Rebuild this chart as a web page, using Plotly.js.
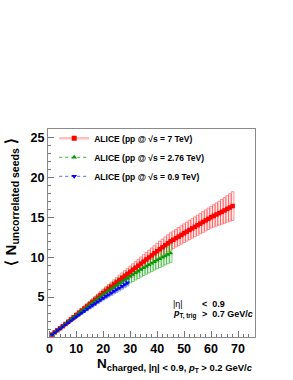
<!DOCTYPE html>
<html>
<head>
<meta charset="utf-8">
<script src="https://cdn.plot.ly/plotly-3.0.1.min.js"></script>
<style>html,body{margin:0;padding:0;background:#fff;}#plot{width:293px;height:380px;}</style>
</head>
<body>
<div id="plot"></div>
<script>
// ---- data ----
const nch7 = [1,2,3,4,5,6,7,8,9,10,11,12,13,14,15,16,17,18,19,20,21,22,23,24,25,26,27,28,29,30,31,32,33,34,35,36,37,38,39,40,41,42,43,44,45,46,47,48,49,50,51,52,53,54,55,56,57,58,59,60,61,62,63,64,65,66,67,68];
const seeds7 = [0.30,0.58,0.85,1.10,1.36,1.63,1.91,2.19,2.47,2.75,3.02,3.29,3.56,3.83,4.10,4.38,4.66,4.94,5.22,5.50,5.77,6.04,6.31,6.58,6.85,7.11,7.37,7.63,7.89,8.15,8.41,8.67,8.93,9.19,9.45,9.71,9.97,10.23,10.49,10.75,11.00,11.25,11.50,11.75,11.98,12.18,12.38,12.58,12.79,13.00,13.20,13.40,13.60,13.80,14.00,14.20,14.40,14.60,14.80,15.00,15.17,15.34,15.51,15.68,15.85,16.04,16.22,16.40];
const sys7 = [0.03,0.05,0.08,0.10,0.12,0.15,0.17,0.20,0.22,0.25,0.27,0.30,0.32,0.34,0.37,0.39,0.42,0.44,0.47,0.50,0.52,0.54,0.57,0.59,0.62,0.64,0.66,0.69,0.71,0.73,0.76,0.78,0.80,0.83,0.85,0.87,0.90,0.92,0.94,0.97,0.99,1.01,1.04,1.06,1.08,1.10,1.11,1.13,1.15,1.17,1.19,1.21,1.22,1.24,1.26,1.28,1.30,1.32,1.34,1.36,1.40,1.45,1.50,1.55,1.60,1.66,1.72,1.80];

const nch276 = [1,2,3,4,5,6,7,8,9,10,11,12,13,14,15,16,17,18,19,20,21,22,23,24,25,26,27,28,29,30,31,32,33,34,35,36,37,38,39,40,41,42,43,44,45];
const seeds276 = [0.30,0.58,0.85,1.10,1.36,1.63,1.90,2.17,2.44,2.70,2.96,3.22,3.48,3.74,4.00,4.26,4.52,4.78,5.04,5.30,5.54,5.78,6.02,6.26,6.50,6.72,6.94,7.16,7.38,7.60,7.81,8.02,8.23,8.44,8.65,8.84,9.03,9.22,9.41,9.60,9.78,9.96,10.14,10.32,10.50];
const sys276 = [0.03,0.06,0.09,0.12,0.15,0.18,0.21,0.24,0.27,0.30,0.33,0.35,0.38,0.41,0.44,0.47,0.50,0.53,0.55,0.58,0.61,0.64,0.66,0.69,0.72,0.74,0.76,0.79,0.81,0.84,0.86,0.88,0.91,0.93,0.95,0.97,0.99,1.01,1.03,1.06,1.08,1.10,1.12,1.14,1.16];

const nch09 = [1,2,3,4,5,6,7,8,9,10,11,12,13,14,15,16,17,18,19,20,21,22,23,24,25,26,27,28,29];
const seeds09 = [0.30,0.56,0.82,1.06,1.30,1.55,1.80,2.05,2.30,2.55,2.79,3.03,3.27,3.51,3.75,3.98,4.21,4.44,4.67,4.90,5.11,5.32,5.53,5.74,5.95,6.16,6.37,6.58,6.80];
const sys09 = [0.02,0.03,0.05,0.06,0.08,0.09,0.11,0.12,0.14,0.15,0.17,0.18,0.20,0.21,0.23,0.24,0.26,0.27,0.28,0.29,0.31,0.32,0.33,0.34,0.36,0.37,0.38,0.39,0.41];

const seriesNames = ['ALICE (pp @ √s = 7 TeV)', 'ALICE (pp @ √s = 2.76 TeV)', 'ALICE (pp @ √s = 0.9 TeV)'];
const xTickVals = [0,10,20,30,40,50,60,70];
const yTickVals = [0,5,10,15,20,25];
const yTickText = ['','5','10','15','20','25'];

// ---- helpers ----
const FONT = 'Liberation Sans, Arial, Helvetica, sans-serif';
function lower(v, s){ return v.map((d,i)=>d - s[i]); }
function twice(s){ return s.map(d=>2*d); }

function sysBoxes(x, v, s, line, fill){
  return {type:'bar', x:x, base:lower(v,s), y:twice(s), width:1,
    marker:{color:fill, line:{color:line, width:1}}, showlegend:false, hoverinfo:'skip'};
}
function pts(x, v, color, symbol, size){
  return {type:'scatter', mode:'markers', x:x, y:v,
    marker:{color:color, symbol:symbol, size:size, line:{width:0}}, showlegend:false, hoverinfo:'skip'};
}
function legendEntry(name, color, symbol, lineColor, lineWidth, dash){
  return {type:'scatter', mode:'lines+markers', x:[null], y:[null], name:name,
    line:{color:lineColor, width:lineWidth, dash:dash},
    marker:{color:color, symbol:symbol, size:5}, showlegend:true, hoverinfo:'skip'};
}

const RED='#ff0000', GREEN='#009900', BLUE='#0000ff';

const data = [
  sysBoxes(nch7, seeds7, sys7, 'rgba(255,50,50,0.5)', 'rgba(255,0,0,0.07)'),
  pts(nch7, seeds7, RED, 'square', 4.5),
  sysBoxes(nch276, seeds276, sys276, 'rgba(0,170,0,0.5)', 'rgba(0,170,0,0.05)'),
  pts(nch276, seeds276, GREEN, 'triangle-up', 4.5),
  sysBoxes(nch09, seeds09, sys09, 'rgba(60,60,255,0.5)', 'rgba(0,0,255,0.05)'),
  pts(nch09, seeds09, BLUE, 'triangle-down', 4.5),
  legendEntry(seriesNames[0], RED, 'square', 'rgba(255,0,0,0.25)', 2.5, 'solid'),
  legendEntry(seriesNames[1], GREEN, 'triangle-up', 'rgba(0,170,0,0.8)', 1, 'dot'),
  legendEntry(seriesNames[2], BLUE, 'triangle-down', 'rgba(60,60,255,0.8)', 1, 'dot')
];

const axisCommon = {
  showgrid:false, zeroline:false, showline:true, linecolor:'#8a8a8a', linewidth:1, mirror:true,
  ticks:'inside', ticklen:6, tickcolor:'#777', tickwidth:1,
  tickfont:{family:FONT, size:12.5, color:'#000', weight:'bold'}
};

const layout = {
  width:293, height:380,
  margin:{l:48, r:38, t:129, b:43},
  paper_bgcolor:'#fff', plot_bgcolor:'#fff',
  barmode:'overlay', bargap:0,
  font:{family:FONT, color:'#000'},
  xaxis: Object.assign({}, axisCommon, {
    range:[-0.5, 76.3], tickmode:'array', tickvals:xTickVals,
    minor:{dtick:2, tick0:0, ticks:'inside', ticklen:3, tickcolor:'#777'}
  }),
  yaxis: Object.assign({}, axisCommon, {
    range:[0, 26.05], tickmode:'array', tickvals:yTickVals, ticktext:yTickText,
    minor:{dtick:1, tick0:0, ticks:'inside', ticklen:3, tickcolor:'#777'}
  }),
  showlegend:true,
  legend:{x:0.03, y:1.025, xanchor:'left', yanchor:'top', bgcolor:'rgba(0,0,0,0)',
    font:{family:FONT, size:8.5, weight:'bold', color:'#000'}, itemwidth:30, tracegroupgap:0},
  annotations:[
    {xref:'paper', yref:'paper', x:1, y:-0.082, xanchor:'right', yanchor:'top', showarrow:false,
     text:'N<sub>charged, |η| &lt; 0.9, <i>p</i><sub>T</sub> &gt; 0.2 GeV/<i>c</i></sub>',
     font:{family:FONT, size:13.5, weight:'bold', color:'#000'}},
    {xref:'paper', yref:'paper', x:-0.175, y:0.965, xanchor:'center', yanchor:'top', showarrow:false, textangle:-90,
     text:'⟨ N<sub>uncorrelated seeds</sub> ⟩',
     font:{family:FONT, size:15, weight:'bold', color:'#000'}},
    {xref:'paper', yref:'paper', x:0.593, y:0.16, xanchor:'left', yanchor:'middle', showarrow:false,
     text:'|η|', font:{family:FONT, size:9, color:'#000'}},
    {xref:'paper', yref:'paper', x:0.733, y:0.16, xanchor:'left', yanchor:'middle', showarrow:false,
     text:'&lt;  0.9', font:{family:FONT, size:9, weight:'bold', color:'#000'}},
    {xref:'paper', yref:'paper', x:0.593, y:0.11, xanchor:'left', yanchor:'middle', showarrow:false,
     text:'<i>p</i><sub>T, trig</sub>', font:{family:FONT, size:9, weight:'bold', color:'#000'}},
    {xref:'paper', yref:'paper', x:0.733, y:0.11, xanchor:'left', yanchor:'middle', showarrow:false,
     text:'&gt;  0.7 GeV/<i>c</i>', font:{family:FONT, size:9, weight:'bold', color:'#000'}}
  ]
};

Plotly.newPlot('plot', data, layout, {staticPlot:true, displayModeBar:false});
</script>
</body>
</html>
